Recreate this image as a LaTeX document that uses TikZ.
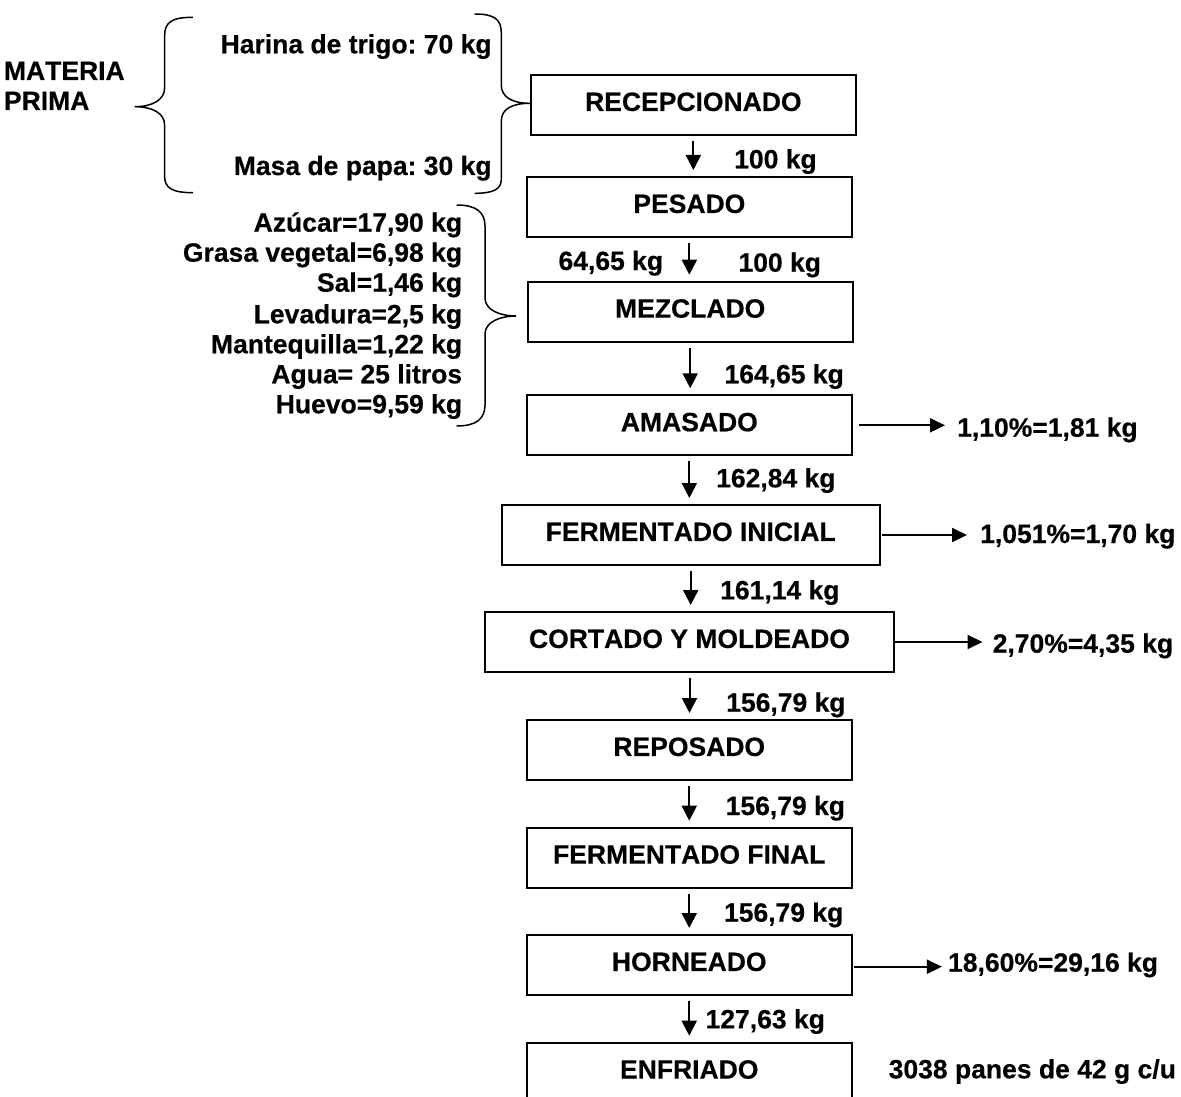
\documentclass[tikz,border=0pt]{standalone}
\usepackage{fontspec}
\setmainfont{Liberation Sans}[Kerning=Off, BoldFeatures={FakeBold=0.4}]
\usetikzlibrary{arrows.meta}
\frenchspacing
\begin{document}
\begin{tikzpicture}[x=1pt,y=-1pt,
  every node/.style={font=\fontsize{26.5}{30}\bfseries\selectfont},
  stepbox/.style={draw, line width=2pt, inner sep=0pt, anchor=north west, minimum height=60pt, text height=18.5pt, text depth=6.6pt, align=center},
  flow/.style={line width=2pt, -{Triangle[length=15pt,width=15pt]}, shorten <=5pt, shorten >=6pt},
  side/.style={line width=2pt, -{Triangle[length=15pt,width=14pt]}},
  lbl/.style={inner sep=0pt, anchor=base west},
  lblr/.style={inner sep=0pt, anchor=base east},
  brace/.style={line width=1.5pt}]
\useasboundingbox (0,0) rectangle (1181,1097);
\clip (0,0) rectangle (1181,1097);

% process boxes
\node[stepbox, minimum width=324.7pt] (b1) at (530,74) {RECEPCIONADO};
\node[stepbox, minimum width=324.7pt] (b2) at (526,176) {PESADO};
\node[stepbox, minimum width=325pt] (b3) at (526.7,280.7) {MEZCLADO};
\node[stepbox, minimum width=324.7pt] (b4) at (526,394.3) {AMASADO};
\node[stepbox, minimum width=378pt] (b5) at (500.7,504) {FERMENTADO INICIAL};
\node[stepbox, minimum width=409pt] (b6) at (484,611) {CORTADO Y MOLDEADO};
\node[stepbox, minimum width=324.5pt] (b7) at (526,719) {REPOSADO};
\node[stepbox, minimum width=324.5pt] (b8) at (526,826.7) {FERMENTADO FINAL};
\node[stepbox, minimum width=324.5pt] (b9) at (526,934) {HORNEADO};
\node[stepbox, minimum width=324.5pt] (b10) at (526,1041.7) {ENFRIADO};

% vertical flow arrows
\draw[flow] (b1.south) -- (b1.south |- b2.north);
\draw[flow] (b2.south) -- (b2.south |- b3.north);
\draw[flow] (b3.south) -- (b3.south |- b4.north);
\draw[flow] (b4.south) -- (b4.south |- b5.north);
\draw[flow] (b5.south) -- (b5.south |- b6.north);
\draw[flow] (b6.south) -- (b6.south |- b7.north);
\draw[flow] (b7.south) -- (b7.south |- b8.north);
\draw[flow] (b8.south) -- (b8.south |- b9.north);
\draw[flow] (b9.south) -- (b9.south |- b10.north);

% flow labels
\node[lbl] (m1) at (734,168.3) {100 kg};
\node[lblr] (m2a) at (663.3,270) {64,65 kg};
\node[lbl] (m2b) at (738.3,271.7) {100 kg};
\node[lbl] (m3) at (724.3,383.3) {164,65 kg};
\node[lbl] (m4) at (716,487.3) {162,84 kg};
\node[lbl] (m5) at (720,599.3) {161,14 kg};
\node[lbl] (m6) at (726,711.7) {156,79 kg};
\node[lbl] (m7) at (725.5,815) {156,79 kg};
\node[lbl] (m8) at (723.8,921.7) {156,79 kg};
\node[lbl] (m9) at (705.4,1028.3) {127,63 kg};

% losses
\node[lbl] (l4) at (957,436.7) {1,10\%=1,81 kg};
\node[lbl] (l5) at (980,543) {1,051\%=1,70 kg};
\node[lbl] (l6) at (992.5,652.7) {2,70\%=4,35 kg};
\node[lbl] (l9) at (947.9,971.7) {18,60\%=29,16 kg};
\node[lbl] (l10) at (888.5,1078.3) {3038 panes de 42 g c/u};

\draw[side] ([xshift=6pt]b4.east) -- ([xshift=-12pt]l4.west |- b4.east);
\draw[side] ([xshift=1pt]b5.east) -- ([xshift=-13pt]l5.west |- b5.east);
\draw[side] ([xshift=0pt]b6.east) -- ([xshift=-10pt]l6.west |- b6.east);
\draw[side] ([xshift=1.5pt,yshift=-1.7pt]b9.east) -- ([xshift=-6pt,yshift=-1.7pt]l9.west |- b9.east);

% raw materials
\node[lbl] (mp1) at (3.8,80) {MATERIA};
\node[lbl] (mp2) at (3.8,110) {PRIMA};
\node[lblr] (h1) at (491.8,53.3) {Harina de trigo: 70 kg};
\node[lblr] (h2) at (491.8,175) {Masa de papa: 30 kg};

\draw[brace] (193,17.3) .. controls (172,17.3) and (164.6,22) .. (164.6,36)
  -- (164.6,88) .. controls (164.6,100) and (152,106.7) .. (134.7,106.7)
  .. controls (152,106.7) and (164.6,113) .. (164.6,125)
  -- (164.6,176) .. controls (164.6,188) and (172,192.7) .. (193,192.7);

\draw[brace] (474.6,14) .. controls (494,14) and (501.3,19) .. (501.3,33)
  -- (501.3,85) .. controls (501.3,97) and (512,103.3) .. (b1.west |- 0,103.3)
  .. controls (512,103.3) and (501.3,109) .. (501.3,121)
  -- (501.3,179) .. controls (501.3,189) and (494,193.3) .. (474.6,193.3);

% ingredients
\node[lblr] (i1) at (462.3,231.7) {Azúcar=17,90 kg};
\node[lblr] (i2) at (462.3,261.7) {Grasa vegetal=6,98 kg};
\node[lblr] (i3) at (462.3,291.7) {Sal=1,46 kg};
\node[lblr] (i4) at (462.3,323.3) {Levadura=2,5 kg};
\node[lblr] (i5) at (462.3,353.3) {Mantequilla=1,22 kg};
\node[lblr] (i6) at (462.3,383.3) {Agua= 25 litros};
\node[lblr] (i7) at (462.3,413.3) {Huevo=9,59 kg};

\draw[brace] (456.7,205) .. controls (476,205) and (485,212) .. (485,226)
  -- (485,298) .. controls (485,310) and (500,316) .. (516,316)
  .. controls (500,316) and (485,322) .. (485,334)
  -- (485,405) .. controls (485,419) and (476,426) .. (456.7,426);
\end{tikzpicture}
\end{document}
